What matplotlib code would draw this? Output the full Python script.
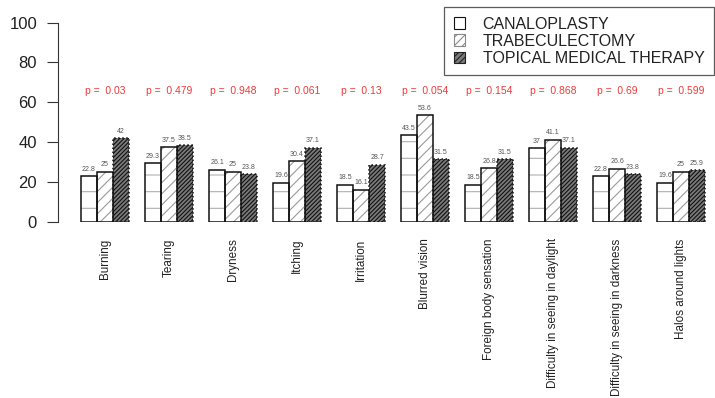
import matplotlib
matplotlib.use("Agg")
import matplotlib.pyplot as plt
from matplotlib.patches import Patch
import numpy as np

plt.rcParams['font.family'] = ['Liberation Sans', 'DejaVu Sans']
plt.rcParams['hatch.linewidth'] = 0.8

categories = ["Burning", "Tearing", "Dryness", "Itching", "Irritation",
              "Blurred vision", "Foreign body sensation",
              "Difficulty in seeing in daylight",
              "Difficulty in seeing in darkness", "Halos around lights"]
canaloplasty = [22.8, 29.3, 26.1, 19.6, 18.5, 43.5, 18.5, 37.0, 22.8, 19.6]
trabeculectomy = [25.0, 37.5, 25.0, 30.4, 16.1, 53.6, 26.8, 41.1, 26.6, 25.0]
topical = [42.0, 38.5, 23.8, 37.1, 28.7, 31.5, 31.5, 37.1, 23.8, 25.9]
p_values = ["0.03", "0.479", "0.948", "0.061", "0.13",
            "0.054", "0.154", "0.868", "0.69", "0.599"]
series_names = ["CANALOPLASTY", "TRABECULECTOMY", "TOPICAL MEDICAL THERAPY"]
y_ticks = [0, 20, 40, 60, 80, 100]

fig = plt.figure(figsize=(7.15, 3.98), dpi=100)
ax = fig.add_axes([58 / 715, 0.4430, 657 / 715, 0.5000])

n = len(categories)
group_start = np.arange(n) * 4 + 1.0  # one-bar gap between groups
centers = group_start + 1.5

# fill styles: (face, hatch, hatch colour)
styles = [
    ("white", "-", "#b0b0b0"),
    ("white", "///", "#9a9a9a"),
    ("#7a7a7a", "////////", "#111111"),
]
series = [canaloplasty, trabeculectomy, topical]

for j, (vals, (fc, hatch, hc)) in enumerate(zip(series, styles)):
    xs = group_start + j + 0.5
    ax.bar(xs, vals, width=1.0, facecolor=fc, hatch=hatch,
           edgecolor=hc, linewidth=0, zorder=2)
    ax.bar(xs, vals, width=1.0, facecolor="none", edgecolor="#111111",
           linewidth=1.1, zorder=3,
           linestyle=":" if j == 2 else "-")
    for x, v in zip(xs, vals):
        ax.annotate(f"{v:g}", (x, v), xytext=(0, 2.5),
                    textcoords="offset points", ha="center", va="bottom",
                    fontsize=5, color="#555555", zorder=4)

for c, p in zip(centers, p_values):
    ax.text(c, 65.5, f"p =  {p}", ha="center", va="center",
            fontsize=7.5, color="#ee3b3b", clip_on=False)

ax.set_xlim(-0.4375, 40.625)
ax.set_ylim(0, 100)
ax.set_yticks(y_ticks)
ax.set_yticklabels([str(t) for t in y_ticks], fontsize=12, color="#222222")
ax.tick_params(axis="y", length=7.6, width=0.8, color="#333333", pad=7.5)

ax.set_xticks(centers)
ax.set_xticklabels(categories, rotation=90, fontsize=8.4, color="#222222",
                   va="top", ha="center")
ax.tick_params(axis="x", length=0, pad=12)

for side in ("top", "right", "bottom"):
    ax.spines[side].set_visible(False)
ax.spines["left"].set_bounds(0, 100)
ax.spines["left"].set_color("#333333")
ax.spines["left"].set_linewidth(0.8)

handles = [
    Patch(facecolor="white", edgecolor="#111111", linewidth=0.8),
    Patch(facecolor="white", edgecolor="#888888", hatch="////", linewidth=0.8),
    Patch(facecolor="#7a7a7a", edgecolor="#222222", hatch="//////", linewidth=0.8),
]
leg = fig.legend(handles, series_names, loc="upper right",
                 bbox_to_anchor=(714 / 715, 1 - 7 / 398),
                 fontsize=11.5, frameon=True, fancybox=False,
                 handlelength=0.7, handleheight=0.7, handletextpad=1.1,
                 labelspacing=0.13, borderpad=0.6, borderaxespad=0,
                 labelcolor="#222222")
leg.get_frame().set_edgecolor("#333333")
leg.get_frame().set_linewidth(0.9)

fig.savefig("out.png", dpi=100)
